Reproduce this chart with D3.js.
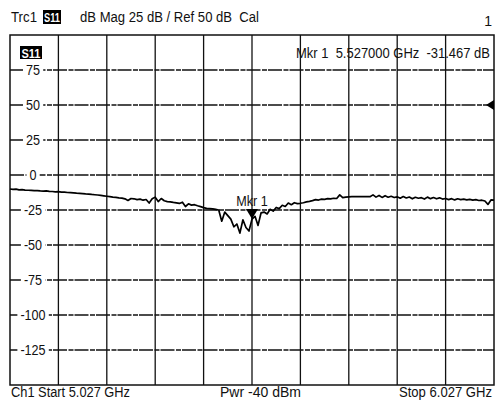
<!DOCTYPE html>
<html>
<head>
<meta charset="utf-8">
<script src="https://cdn.jsdelivr.net/npm/d3@7"></script>
<style>
  html, body { margin: 0; padding: 0; background: #fff; }
  svg { display: block; }
  text { font-family: "Liberation Sans Narrow", "Arial Narrow", "Liberation Sans", sans-serif; fill: #111; }
</style>
</head>
<body>
<div id="chart"></div>
<script>
// sweep settings (GHz)
const startFreq = 5.027;
const stopFreq = 6.027;

// S11 magnitude in dB, one value per sweep point, start to stop
const s11dB = [
  -10.0, -10.3, -10.1, -10.6, -10.5, -10.8, -10.9, -11.0, -11.2, -11.1,
  -11.4, -11.5, -11.4, -11.7, -11.8, -12.0, -11.9, -12.2, -12.3, -12.5,
  -12.6, -12.8, -13.0, -13.1, -13.3, -13.5, -13.6, -13.9, -14.1, -14.3,
  -14.6, -14.9, -15.2, -15.5, -15.8, -16.0, -16.3, -16.5, -17.0, -18.2,
  -16.8, -17.0, -17.6, -17.2, -18.0, -17.5, -20.0, -17.0, -15.8, -19.0,
  -16.8, -18.4, -19.0, -19.2, -19.6, -19.9, -20.3, -19.4, -22.5, -20.6,
  -21.5, -21.2, -22.0, -22.6, -23.3, -23.8, -24.0, -24.2, -24.6, -25.0,
  -33.0, -26.5, -29.0, -31.5, -37.0, -35.0, -41.5, -32.0, -37.5, -40.0,
  -31.5, -29.5, -36.0, -27.0, -26.5, -27.8, -24.5, -25.8, -23.2, -24.0,
  -21.6, -22.5, -20.0, -21.2, -19.8, -20.4, -20.2, -19.8, -19.2, -18.8,
  -18.3, -17.6, -17.9, -17.2, -17.4, -16.9, -17.1, -16.6, -16.8, -14.2,
  -16.2, -15.8, -15.6, -15.5, -15.5, -15.4, -15.5, -15.4, -15.4, -15.5,
  -14.2, -15.8, -14.6, -16.0, -14.8, -15.9, -15.2, -16.1, -15.6, -16.6,
  -15.4, -16.4, -15.7, -17.0, -15.9, -16.6, -16.2, -17.2, -15.8, -16.9,
  -16.1, -17.0, -16.3, -17.2, -16.8, -17.6, -16.9, -17.8, -17.0, -17.6,
  -17.2, -17.8, -17.4, -17.9, -17.6, -18.2, -18.0, -18.6, -21.0, -17.8,
  -18.0
];

// axis: 25 dB / div, ref 50 dB, 10 divisions
const yTicks = [75, 50, 25, 0, -25, -50, -75, -100, -125];
const yDomain = [-150, 100];
const refLevel = 50;

// marker 1
const markerFreq = 5.527;
const markerValue = -31.467;

const width = 496, height = 406;
const plot = { left: 10, right: 494, top: 35, bottom: 385 };
const squeeze = 0.9; // analyzer font is narrower than the installed sans

const svg = d3.select("#chart").append("svg")
  .attr("width", width)
  .attr("height", height);

const x = d3.scaleLinear().domain([startFreq, stopFreq]).range([plot.left, plot.right]);
const y = d3.scaleLinear().domain(yDomain).range([plot.bottom, plot.top]);

const freqs = s11dB.map((d, i) => startFreq + (stopFreq - startFreq) * i / (s11dB.length - 1));
const trace = s11dB.map((d, i) => ({ f: freqs[i], v: d }));

// squeeze a text element horizontally, or force it to a given width
function narrow(sel, w) {
  const natural = sel.node().getComputedTextLength();
  sel.attr("textLength", w || natural * squeeze)
    .attr("lengthAdjust", "spacingAndGlyphs");
  return sel;
}

// grid: vertical divisions
const xGrid = d3.range(1, 10).map(i => startFreq + (stopFreq - startFreq) * i / 10);
svg.append("g")
  .selectAll("line")
  .data(xGrid)
  .enter()
  .append("line")
  .attr("x1", d => x(d)).attr("x2", d => x(d))
  .attr("y1", plot.top).attr("y2", plot.bottom)
  .attr("stroke", "#111")
  .attr("stroke-width", 1.3);

// grid: horizontal divisions
svg.append("g")
  .selectAll("line")
  .data(yTicks)
  .enter()
  .append("line")
  .attr("x1", plot.left).attr("x2", plot.right)
  .attr("y1", d => y(d)).attr("y2", d => y(d))
  .attr("stroke", "#111")
  .attr("stroke-width", 1.3)
  .attr("stroke-dasharray", "14,1.5,5,1");

// frame
svg.append("rect")
  .attr("x", plot.left).attr("y", plot.top)
  .attr("width", plot.right - plot.left)
  .attr("height", plot.bottom - plot.top)
  .attr("fill", "none")
  .attr("stroke", "#111")
  .attr("stroke-width", 1.5);

// tick labels sit on the grid lines with a white gap round them
const tickG = svg.append("g");
yTicks.forEach(t => {
  const lbl = tickG.append("text")
    .attr("x", 33)
    .attr("y", y(t))
    .attr("dy", "0.36em")
    .attr("text-anchor", "middle")
    .style("font-size", "14px")
    .text(t);
  narrow(lbl);
  const bb = lbl.node().getBBox();
  tickG.insert("rect", "text")
    .attr("x", bb.x - 3).attr("y", y(t) - 2)
    .attr("width", bb.width + 6).attr("height", 4)
    .attr("fill", "#fff");
});

// trace
const line = d3.line().x(d => x(d.f)).y(d => y(d.v));
svg.append("path")
  .datum(trace)
  .attr("d", line)
  .attr("fill", "none")
  .attr("stroke", "#000")
  .attr("stroke-width", 1.7)
  .attr("stroke-linejoin", "round");

// marker triangle and label
const mx = x(markerFreq), my = y(markerValue);
svg.append("path")
  .attr("d", `M${mx - 6},${my - 10} L${mx + 6},${my - 10} L${mx},${my} Z`)
  .attr("fill", "#000");
narrow(svg.append("text")
  .attr("x", mx)
  .attr("y", my - 13)
  .attr("text-anchor", "middle")
  .style("font-size", "14px")
  .text("Mkr 1"));

// reference level arrow on the right edge
const ry = y(refLevel);
svg.append("path")
  .attr("d", `M${plot.right - 8},${ry} L${plot.right},${ry - 5} L${plot.right},${ry + 5} Z`)
  .attr("fill", "#000");

// S11 badge inside the plot
svg.append("rect")
  .attr("x", 20).attr("y", 46).attr("width", 22).attr("height", 13)
  .attr("fill", "#000");
narrow(svg.append("text")
  .attr("x", 21.5).attr("y", 57.5)
  .style("font-size", "13px")
  .style("font-weight", "bold")
  .style("fill", "#fff")
  .text("S11"), 19);

// marker readout
narrow(svg.append("text")
  .attr("x", 296).attr("y", 58)
  .attr("xml:space", "preserve")
  .style("font-size", "14px")
  .text("Mkr 1  5.527000 GHz  -31.467 dB"), 194);

// header line
narrow(svg.append("text")
  .attr("x", 11).attr("y", 22)
  .style("font-size", "14px")
  .text("Trc1"), 26);
svg.append("rect")
  .attr("x", 43).attr("y", 10).attr("width", 18).attr("height", 14)
  .attr("fill", "#000");
narrow(svg.append("text")
  .attr("x", 44).attr("y", 22)
  .style("font-size", "13px")
  .style("font-weight", "bold")
  .style("fill", "#fff")
  .text("S11"), 16);
narrow(svg.append("text")
  .attr("x", 80).attr("y", 22)
  .attr("xml:space", "preserve")
  .style("font-size", "14px")
  .text("dB Mag 25 dB / Ref 50 dB  Cal"), 179);
svg.append("text")
  .attr("x", 492).attr("y", 26)
  .attr("text-anchor", "end")
  .style("font-size", "14px")
  .text("1");

// footer line
narrow(svg.append("text")
  .attr("x", 11).attr("y", 397)
  .style("font-size", "14px")
  .text("Ch1 Start 5.027 GHz"), 119);
narrow(svg.append("text")
  .attr("x", 220).attr("y", 397)
  .style("font-size", "14px")
  .text("Pwr -40 dBm"), 81);
narrow(svg.append("text")
  .attr("x", 399).attr("y", 397)
  .style("font-size", "14px")
  .text("Stop 6.027 GHz"), 93);
</script>
</body>
</html>
